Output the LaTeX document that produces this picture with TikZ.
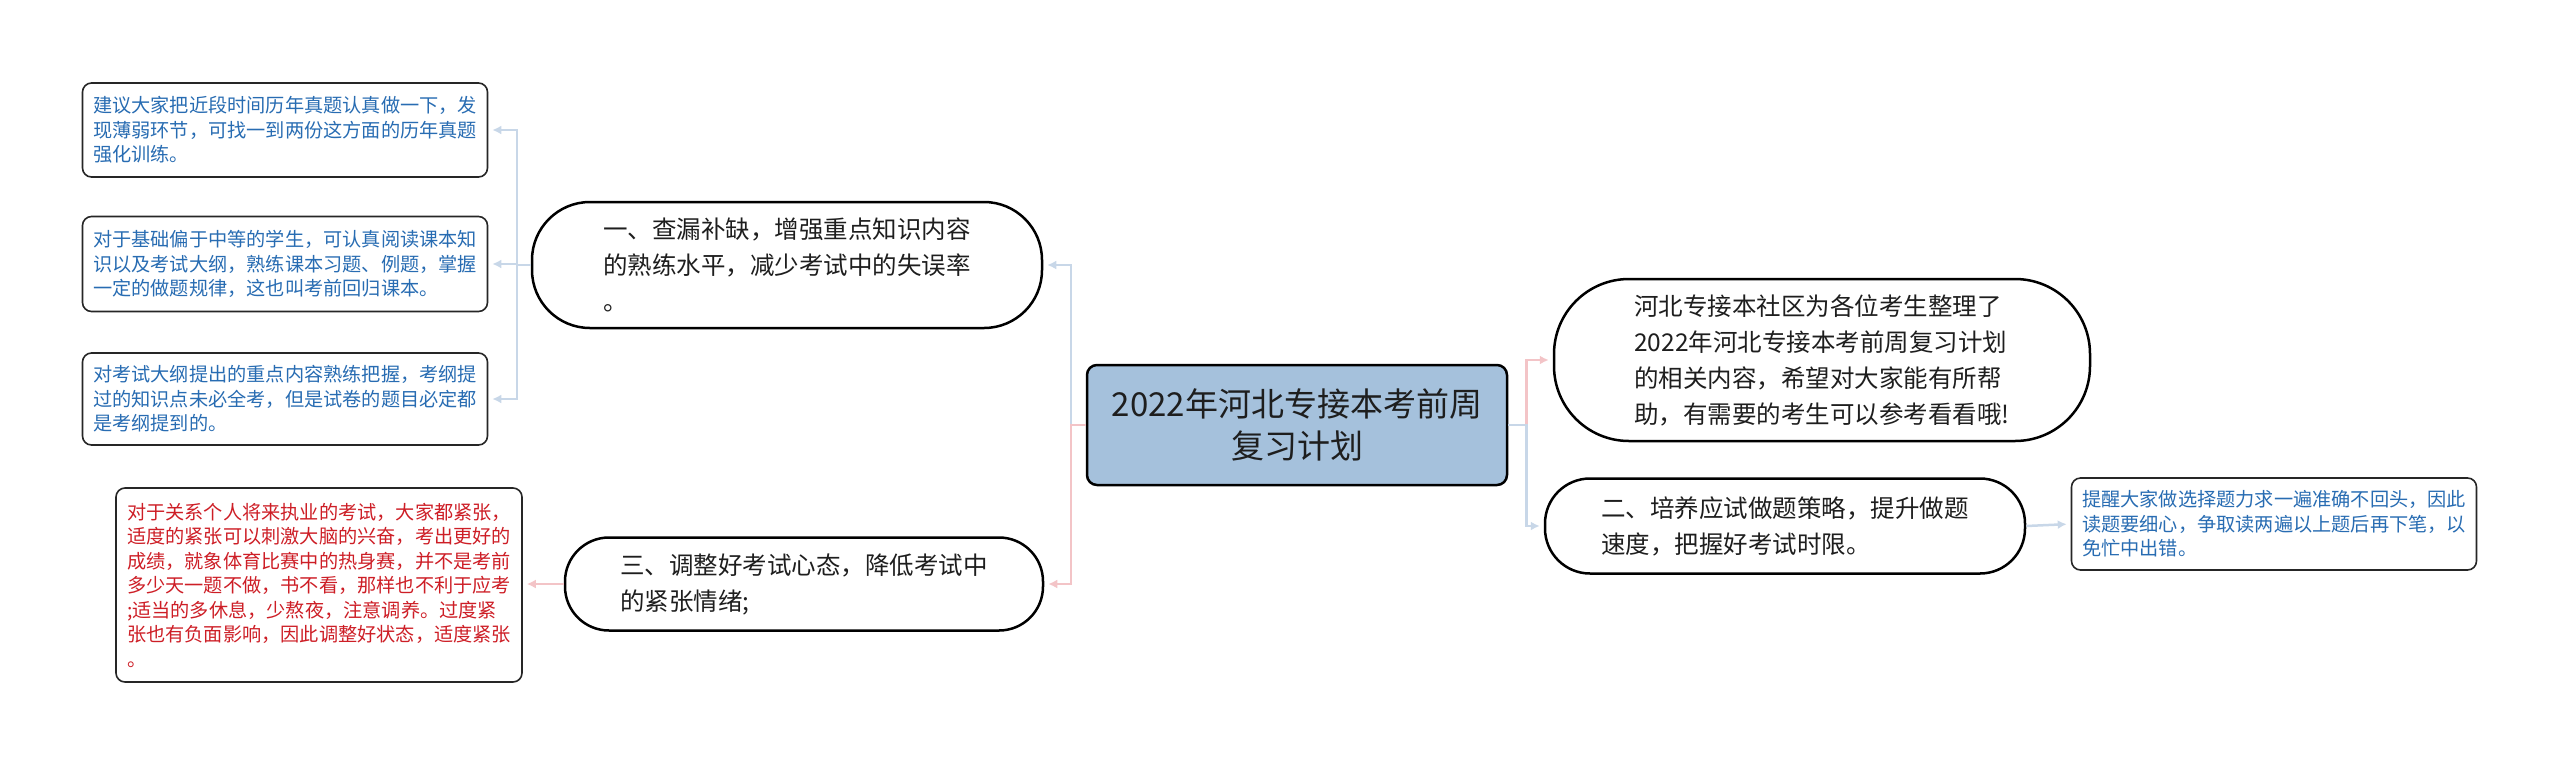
\documentclass[tikz,border=0pt]{standalone}
\usepackage{fontspec}
\setmainfont{Noto Sans CJK SC}
\usetikzlibrary{arrows.meta}
\definecolor{rootfill}{RGB}{165,193,220}
\definecolor{inktext}{RGB}{30,30,30}
\definecolor{leafblue}{RGB}{40,108,178}
\definecolor{leafred}{RGB}{205,30,38}
\definecolor{linkblue}{RGB}{200,215,232}
\definecolor{linkpink}{RGB}{243,196,199}
\begin{document}
\begin{tikzpicture}[x=1pt,y=-1pt,>={Latex[length=9pt,width=9pt]},
    topic/.style={draw, line width=2.5pt, rounded corners=10pt, fill=rootfill, align=center, text=inktext, font=\fontsize{33}{42}\selectfont},
    branch/.style={draw, line width=2.5pt, align=left, inner sep=0pt, text=inktext, font=\fontsize{24.5}{36}\selectfont},
    leaf/.style={draw=black!85, line width=1.6pt, rounded corners=9pt, align=left, inner sep=0pt, font=\fontsize{19.2}{24.5}\selectfont},
    bluelink/.style={draw=linkblue, line width=2.5pt, shorten >=4pt},
    pinklink/.style={draw=linkpink, line width=2.5pt, shorten >=4pt}]
    \useasboundingbox (0,0) rectangle (2560,764);

    \node (plan) [topic, minimum width=420pt, minimum height=120pt] at (1297,425) {2022年河北专接本考前周\\复习计划};

    \node (check) [branch, minimum width=510pt, minimum height=126pt, rounded corners=58pt] at (787,265) {一、查漏补缺，增强重点知识内容\\的熟练水平，减少考试中的失误率\\。};
    \node (calm) [branch, minimum width=478pt, minimum height=93pt, rounded corners=44pt] at (804,584) {三、调整好考试心态，降低考试中\\的紧张情绪;};
    \node (intro) [branch, minimum width=536pt, minimum height=162pt, rounded corners=75pt] at (1822,360) {河北专接本社区为各位考生整理了\\2022年河北专接本考前周复习计划\\的相关内容，希望对大家能有所帮\\助，有需要的考生可以参考看看哦!};
    \node (speed) [branch, minimum width=480pt, minimum height=95pt, rounded corners=45pt] at (1785,526) {二、培养应试做题策略，提升做题\\速度，把握好考试时限。};

    \node (past) [leaf, text=leafblue, minimum width=405pt, minimum height=94pt] at (285,130) {建议大家把近段时间历年真题认真做一下，发\\现薄弱环节，可找一到两份这方面的历年真题\\强化训练。};
    \node (basic) [leaf, text=leafblue, minimum width=405pt, minimum height=95pt] at (285,264) {对于基础偏于中等的学生，可认真阅读课本知\\识以及考试大纲，熟练课本习题、例题，掌握\\一定的做题规律，这也叫考前回归课本。};
    \node (outline) [leaf, text=leafblue, minimum width=405pt, minimum height=92pt] at (285,399) {对考试大纲提出的重点内容熟练把握，考纲提\\过的知识点未必全考，但是试卷的题目必定都\\是考纲提到的。};
    \node (mood) [leaf, text=leafred, minimum width=406pt, minimum height=194pt] at (319,585) {对于关系个人将来执业的考试，大家都紧张，\\适度的紧张可以刺激大脑的兴奋，考出更好的\\成绩，就象体育比赛中的热身赛，并不是考前\\多少天一题不做，书不看，那样也不利于应考\\;适当的多休息，少熬夜，注意调养。过度紧\\张也有负面影响，因此调整好状态，适度紧张\\。};
    \node (tip) [leaf, text=leafblue, minimum width=405pt, minimum height=92pt] at (2274,524) {提醒大家做选择题力求一遍准确不回头，因此\\读题要细心，争取读两遍以上题后再下笔，以\\免忙中出错。};

    % root to branches
    \draw[bluelink,->] (plan.west) -- ++(-15,0) |- (check.east);
    \draw[pinklink,->] (plan.west) -- ++(-15,0) |- (calm.east);
    \draw[pinklink,->] (plan.east) -- ++(18,0) |- (intro.west);
    \draw[bluelink,->] (plan.east) -- ++(18,0) |- (speed.west);

    % branches to leaves
    \draw[bluelink,->] (check.west) -- ++(-14,0) |- (past.east);
    \draw[bluelink,->] (check.west) -- ++(-14,0) |- (basic.east);
    \draw[bluelink,->] (check.west) -- ++(-14,0) |- (outline.east);
    \draw[pinklink,->] (calm.west) -- (calm.west -| mood.east);
    \draw[bluelink,->] (speed.east) -- (tip.west);
\end{tikzpicture}
\end{document}
